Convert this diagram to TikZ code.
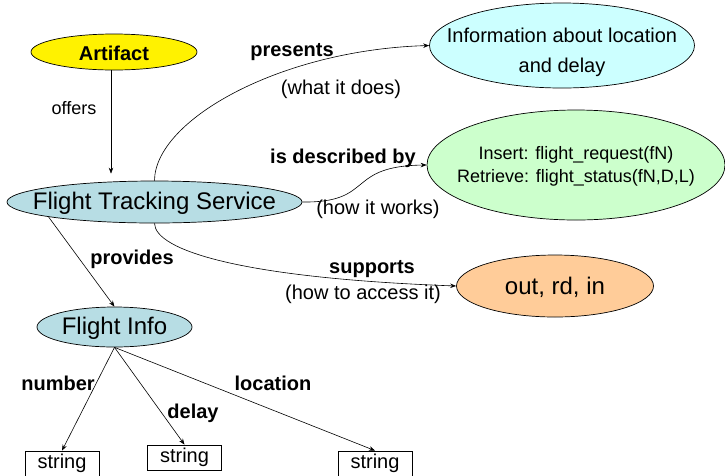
\documentclass[tikz,border=0pt]{standalone}
\usepackage{fontspec}
\setmainfont{Liberation Sans}
\usetikzlibrary{shapes.geometric,arrows.meta}
\definecolor{ftsblue}{HTML}{B7DDE4}
\definecolor{infocyan}{HTML}{CCFFFF}
\definecolor{descgreen}{HTML}{CCFFCC}
\definecolor{suporange}{HTML}{FFCC99}
\tikzset{
  ell/.style={ellipse, draw=black, line width=0.7pt, inner sep=0pt},
  etext/.style={inner sep=0pt, align=center},
  strbox/.style={rectangle, draw=black, line width=0.8pt, minimum width=74pt, minimum height=25pt, inner sep=0pt, font=\fontsize{20}{24}\selectfont},
  conn/.style={draw=black, line width=0.6pt, -{Stealth[length=6pt,width=4.5pt]}},
  lbl/.style={inner sep=0pt, font=\fontsize{20}{24}\selectfont},
  blbl/.style={inner sep=0pt, font=\fontsize{20}{24}\selectfont\bfseries},
}
\begin{document}
\begin{tikzpicture}[x=1pt,y=-1pt]
\useasboundingbox (0,0) rectangle (725,475);
% ellipse shapes
\node[ell, fill=yellow, minimum width=166pt, minimum height=36pt] (art) at (114,52) {};
\node[ell, fill=ftsblue, minimum width=295pt, minimum height=42pt] (fts) at (154.5,202) {};
\node[ell, fill=infocyan, minimum width=265pt, minimum height=85pt] (info) at (562,45.5) {};
\node[ell, fill=descgreen, minimum width=298pt, minimum height=110pt] (desc) at (576,165) {};
\node[ell, fill=suporange, minimum width=197pt, minimum height=62pt] (sup) at (555,286) {};
\node[ell, fill=ftsblue, minimum width=155pt, minimum height=40pt] (fi) at (114.5,327) {};
% ellipse texts
\node[etext, font=\fontsize{20}{24}\selectfont\bfseries] (artT) at (114,53) {Artifact};
\node[etext, font=\fontsize{24}{28}\selectfont] (ftsT) at (154.5,203) {Flight Tracking Service};
\node[etext, font=\fontsize{20}{30}\selectfont] (infoT) at (562,52) {Information about location\\and delay};
\node[etext, font=\fontsize{18}{23}\selectfont] (descT) at (576,166) {Insert: flight\_request(fN)\\Retrieve: flight\_status(fN,D,L)};
\node[etext, font=\fontsize{24}{28}\selectfont] (supT) at (555,287) {out, rd, in};
\node[etext, font=\fontsize{24}{28}\selectfont] (fiT) at (114.5,328) {Flight Info};
% boxes
\node[strbox] (s1) at (62,463.5) {string};
\node[strbox] (s2) at (184.5,457.5) {string};
\node[strbox] (s3) at (375,463.5) {string};
% connectors
\draw[conn, shorten >=7pt] (art.south -| 111,0) -- (fts.north -| 111,0);
\draw[conn] (fts.north) .. controls (155,120) and (280,50) .. (info.west);
\draw[conn] (fts.east) .. controls (375,203) and (345,166) .. (desc.west);
\draw[conn] (fts.south) .. controls (155,250) and (240,278) .. (sup.west);
\draw[conn] (fts.188) -- (fi.north);
\draw[conn] (fi.south) -- (s1.north);
\draw[conn] (fi.south) -- (s2.north);
\draw[conn] (fi.south) -- (s3.north);
% labels
\node[lbl, font=\fontsize{18}{22}\selectfont] (lofr) at (74,108) {offers};
\node[blbl] (lpre) at (292,52) {presents};
\node[lbl] (lwhat) at (341,89) {(what it does)};
\node[blbl] (ldesc) at (343,158) {is described by};
\node[lbl] (lhow) at (378,209) {(how it works)};
\node[blbl] (lsup) at (372,269) {supports};
\node[lbl] (lacc) at (363,294) {(how to access it)};
\node[blbl] (lprov) at (132,259) {provides};
\node[blbl] (lnum) at (58,383) {number};
\node[blbl] (ldel) at (193,413) {delay};
\node[blbl] (lloc) at (273,383) {location};
\end{tikzpicture}
\end{document}
